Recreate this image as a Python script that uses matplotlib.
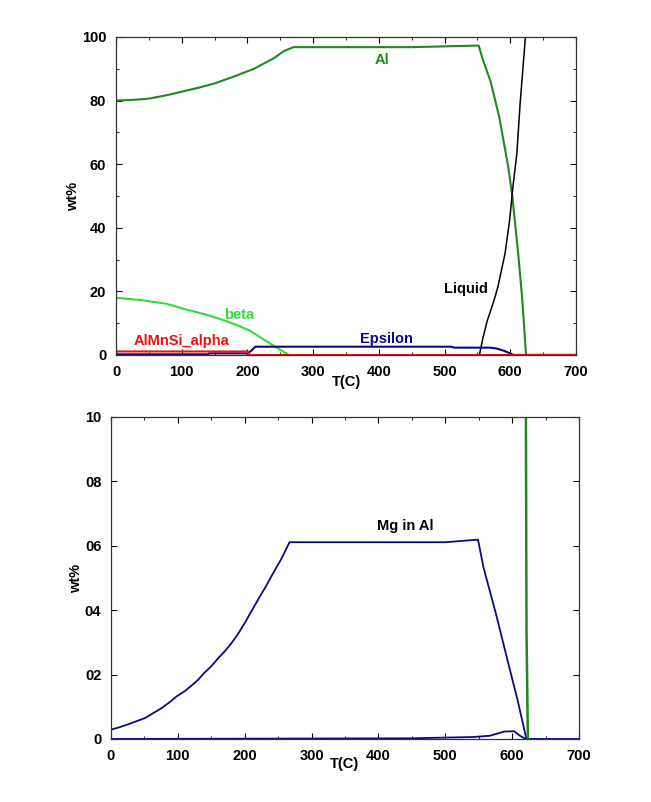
import matplotlib
matplotlib.use("Agg")
import matplotlib.pyplot as plt
from matplotlib.ticker import MultipleLocator

plt.rcParams['font.family'] = ['Liberation Sans', 'DejaVu Sans']
plt.rcParams['font.weight'] = 'bold'

# top panel: phase amounts
al_T = [0, 25, 50, 80, 100, 125, 150, 180, 210, 240, 255, 270, 450, 552, 558, 570, 583, 597, 603, 612, 618, 624, 700]
al_wt = [80, 80.2, 80.6, 81.8, 82.8, 84, 85.4, 87.6, 90, 93.3, 95.5, 96.8, 96.8, 97.3, 93, 86, 75, 59, 50, 32, 18, 0, 0]

liq_T = [553, 558, 565, 575, 581, 592, 599, 604, 610, 615, 623, 626]
liq_wt = [0, 5, 10.8, 17, 21.3, 31.9, 42.4, 52.9, 63.4, 79.2, 100, 106]

beta_T = [0, 40, 77, 103, 135, 166, 185, 203, 220, 240, 263]
beta_wt = [18, 17.2, 16.1, 14.5, 12.8, 10.8, 9.3, 7.7, 5.5, 2.9, 0]

eps_T = [0, 140, 142, 200, 205, 212, 510, 515, 570, 580, 592, 605, 700]
eps_wt = [0.2, 0.2, 0.5, 0.5, 1.2, 2.6, 2.6, 2.3, 2.3, 2.0, 1.2, 0, 0]

alpha_T = [0, 200, 203, 700]
alpha_wt = [1.1, 1.1, 0, 0]

# bottom panel: Mg in Al
mg_T = [0, 12, 25, 38, 51, 63, 75, 87, 98, 110, 120, 130, 139, 150, 160, 170, 180, 190, 200,
        211, 222, 232, 242, 255, 267, 500, 549, 557, 577, 593, 608, 621]
mg_wt = [0.029, 0.036, 0.045, 0.055, 0.065, 0.08, 0.095, 0.113, 0.132, 0.148, 0.165, 0.183,
         0.204, 0.226, 0.25, 0.272, 0.297, 0.326, 0.36, 0.4, 0.44, 0.475, 0.513, 0.56, 0.611,
         0.611, 0.619, 0.534, 0.379, 0.245, 0.122, 0.003]
mg2_T = [0, 448, 541, 567, 588, 603, 613, 621, 700]
mg2_wt = [0, 0.002, 0.006, 0.01, 0.023, 0.024, 0.008, 0, 0]
grn_T = [620.5, 621.5, 623.5]
grn_wt = [1.05, 0.34, 0]

ytick_vals = [0, 0.2, 0.4, 0.6, 0.8, 1.0]
ytick_text = ['0', '02', '04', '06', '08', '10']

DKGREEN = '#1e8a1e'
LTGREEN = '#33dd33'
NAVY = '#0a0a80'
RED = '#ee1111'

fig = plt.figure(figsize=(6.51, 8.02), dpi=100)
ax1 = fig.add_axes([0.1782, 0.5574, 0.7066, 0.3965])
ax2 = fig.add_axes([0.1705, 0.0786, 0.7189, 0.4015])

lw = 1.5
ax1.plot(al_T, al_wt, color=DKGREEN, lw=lw)
ax1.plot(liq_T, liq_wt, color='black', lw=1.1)
ax1.plot(beta_T, beta_wt, color=LTGREEN, lw=lw)
ax1.plot(eps_T, eps_wt, color=NAVY, lw=lw)
ax1.plot(alpha_T, alpha_wt, color=RED, lw=lw)

ax1.text(405, 92.8, 'Al', color=DKGREEN, ha='center', va='center', fontsize=10.5)
ax1.text(532, 20.8, 'Liquid', color='black', ha='center', va='center', fontsize=10.5)
ax1.text(187, 12.7, 'beta', color=LTGREEN, ha='center', va='center', fontsize=10.5)
ax1.text(100, 4.5, 'AlMnSi_alpha', color=RED, ha='center', va='center', fontsize=10.5)
ax1.text(412, 5.0, 'Epsilon', color=NAVY, ha='center', va='center', fontsize=10.5)

ax1.set_xlim(0, 700)
ax1.set_ylim(0, 100)
ax1.yaxis.set_major_locator(MultipleLocator(20))
ax1.yaxis.set_minor_locator(MultipleLocator(10))

ax2.plot(mg_T, mg_wt, color=NAVY, lw=1.3)
ax2.plot(mg2_T, mg2_wt, color=NAVY, lw=1.3)
ax2.plot(grn_T, grn_wt, color=DKGREEN, lw=1.8)
ax2.text(440, 0.66, 'Mg in Al', color='black', ha='center', va='center', fontsize=10.5)
ax2.set_xlim(0, 700)
ax2.set_ylim(0, 1.0)
ax2.set_yticks(ytick_vals)
ax2.set_yticklabels(ytick_text)

for ax in (ax1, ax2):
    ax.xaxis.set_major_locator(MultipleLocator(100))
    ax.xaxis.set_minor_locator(MultipleLocator(50))
    ax.tick_params(which='both', direction='in', top=True, right=True, labelsize=10.5)
    ax.tick_params(which='major', length=4, pad=7)
    ax.tick_params(which='minor', length=2.5)
    for lab in ax.get_xticklabels() + ax.get_yticklabels():
        lab.set_fontweight('bold')
    for s in ax.spines.values():
        s.set_color('#333333')
        s.set_linewidth(0.9)
    ax.set_ylabel('wt%', fontsize=10.5, fontweight='bold', labelpad=1)

ax1.set_xlabel('T(C)', fontsize=10.5, fontweight='bold', labelpad=-3)
ax2.set_xlabel('T(C)', fontsize=10.5, fontweight='bold', labelpad=-4)

fig.savefig('out.png', dpi=100)
